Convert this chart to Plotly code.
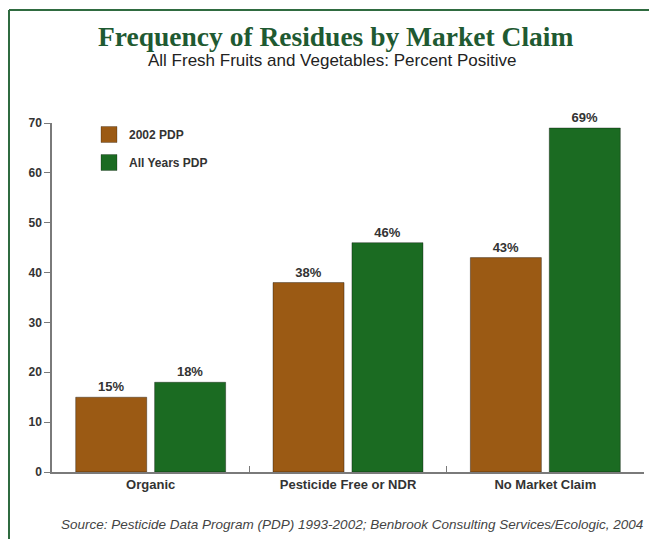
import plotly.graph_objects as go

categories = ["Organic", "Pesticide Free or NDR", "No Market Claim"]
series_names = ["2002 PDP", "All Years PDP"]
values_2002 = [15, 38, 43]
values_all = [18, 46, 69]
y_ticks = [0, 10, 20, 30, 40, 50, 60, 70]

title = "Frequency of Residues by Market Claim"
subtitle = "All Fresh Fruits and Vegetables: Percent Positive"
source = "Source: Pesticide Data Program (PDP) 1993-2002; Benbrook Consulting Services/Ecologic, 2004"

brown = "#9b5a14"
green = "#1b6b22"
frame = "#2f6b40"
axis_gray = "#7a7a7a"
text_dark = "#333333"

OFF = 8  # page body margin
W, H = 657 - OFF, 539 - OFF
L, R, T, B = 44, 13, 115, 67
pw, ph = W - L - R, H - T - B

def px(x):
    return (x - OFF - L) / pw

def py(y):
    return (H - B - (y - OFF)) / ph

fig = go.Figure()
for name, vals, col, grp in [(series_names[0], values_2002, brown, "a"),
                             (series_names[1], values_all, green, "b")]:
    fig.add_trace(go.Bar(
        x=categories, y=vals, name=name, legendgroup=grp, showlegend=False,
        marker=dict(color=col, line=dict(color="rgba(0,0,0,0.35)", width=1)),
        texttemplate="%{y}%", textposition="outside",
        textfont=dict(family="Liberation Sans", size=13, color=text_dark, weight="bold"),
        cliponaxis=False,
    ))
    # legend entry with a larger square swatch
    fig.add_trace(go.Scatter(
        x=[None], y=[None], mode="markers", name=name, legendgroup=grp, showlegend=True,
        marker=dict(symbol="square", size=20, color=col, line=dict(color="rgba(0,0,0,0.25)", width=1)),
    ))

fig.update_layout(
    width=W, height=H,
    margin=dict(l=L, r=R, t=T, b=B),
    paper_bgcolor="white", plot_bgcolor="white",
    barmode="group", bargap=0.2, bargroupgap=0.1,
    showlegend=True,
    legend=dict(x=px(89), y=py(120), xanchor="left", yanchor="top",
                font=dict(family="Liberation Sans", size=12, color=text_dark, weight="bold"),
                bgcolor="rgba(0,0,0,0)", tracegroupgap=9, itemwidth=30),
    font=dict(family="Liberation Sans", color=text_dark),
    xaxis=dict(showline=True, linecolor=axis_gray, linewidth=1.5,
               tickson="boundaries", ticks="inside", ticklen=6, tickcolor=axis_gray,
               tickfont=dict(family="Liberation Sans", size=13, color=text_dark, weight="bold"),
               showgrid=False, zeroline=False),
    yaxis=dict(range=[0, 70], tickvals=y_ticks, showline=True, linecolor=axis_gray, linewidth=1.5,
               ticks="outside", ticklen=6, tickcolor=axis_gray,
               tickfont=dict(family="Liberation Sans", size=12, color=text_dark, weight="bold"),
               showgrid=False, zeroline=False),
    shapes=[
        dict(type="line", xref="paper", yref="paper", x0=px(9), x1=px(9), y0=py(545), y1=py(10),
             line=dict(color=frame, width=2)),
        dict(type="line", xref="paper", yref="paper", x0=px(9), x1=px(660), y0=py(10), y1=py(10),
             line=dict(color=frame, width=2)),
    ],
    annotations=[
        dict(text=title, xref="paper", yref="paper", x=px(335), y=py(36), xanchor="center", yanchor="middle",
             showarrow=False, font=dict(family="Liberation Serif", size=27.5, color="#1f5a32", weight="bold")),
        dict(text=subtitle, xref="paper", yref="paper", x=px(332), y=py(61), xanchor="center", yanchor="middle",
             showarrow=False, font=dict(family="Liberation Sans", size=17, color="#222222")),
        dict(text="<i>" + source + "</i>", xref="paper", yref="paper", x=px(352), y=py(524),
             xanchor="center", yanchor="middle", showarrow=False,
             font=dict(family="Liberation Sans", size=13.5, color="#444444")),
    ],
)

fig.write_html("out.html")
